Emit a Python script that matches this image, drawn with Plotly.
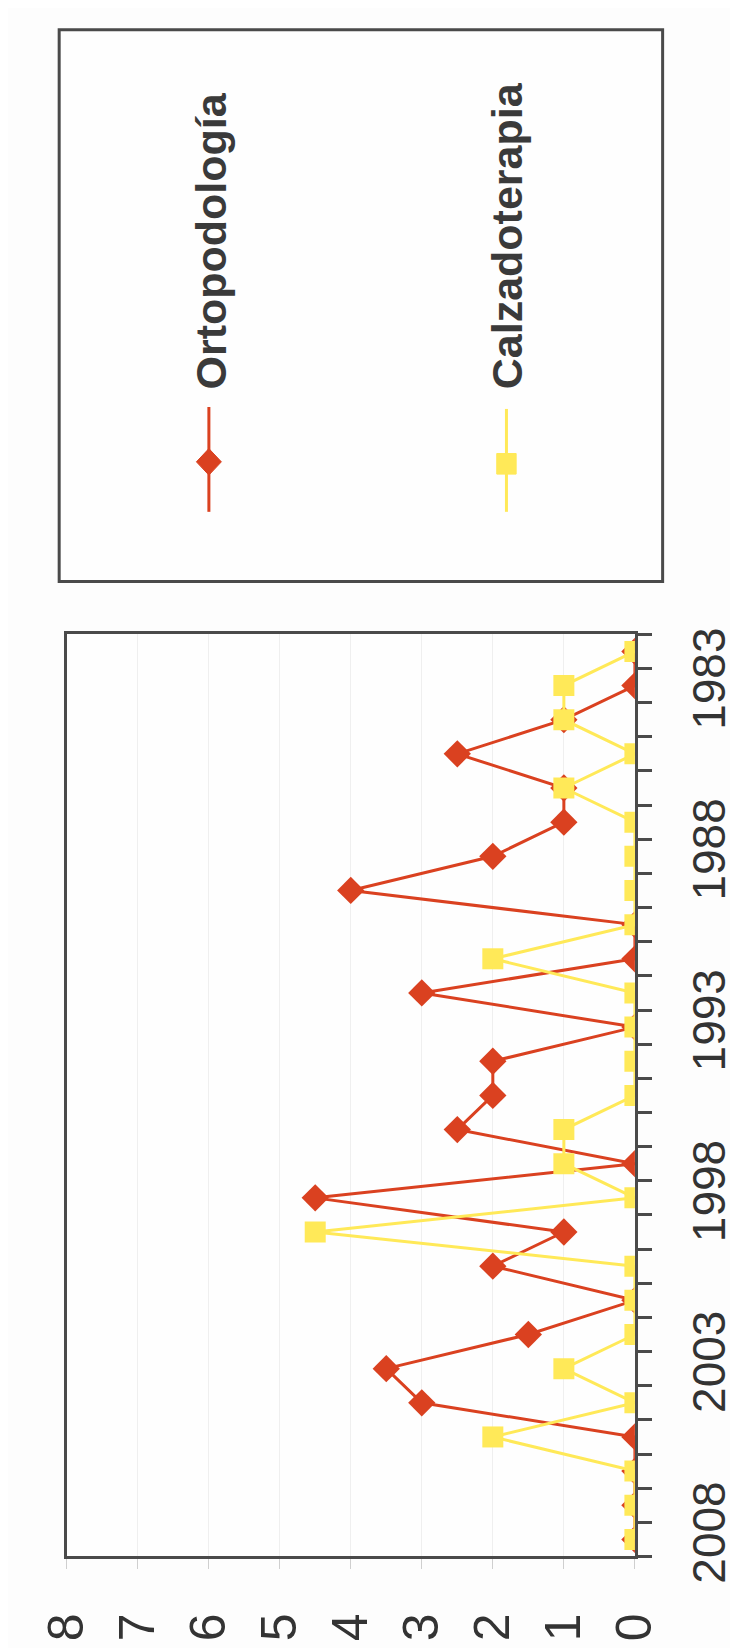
import plotly.graph_objects as go

# Data: categories run 1982..2008 (2008 drawn at the bottom)
years = list(range(1982, 2009))
ortopodologia = [0, 0, 1, 2.5, 1, 1, 2, 4, 0, 0, 3, 0, 2, 2, 2.5,
                 0, 4.5, 1, 2, 0, 1.5, 3.5, 3, 0, 0, 0, 0]
calzadoterapia = [0, 1, 1, 0, 1, 0, 0, 0, 0, 2, 0, 0, 0, 0, 1,
                  1, 0, 4.5, 0, 0, 0, 1, 0, 2, 0, 0, 0]
year_labels = [1983, 1988, 1993, 1998, 2003, 2008]
value_ticks = [0, 1, 2, 3, 4, 5, 6, 7, 8]

W, H = 738, 1648
RED = "#da4120"
YELLOW = "#ffe958"
FRAME = "#4a4a4a"
TEXT = "#333333"


def px(x):
    return x / W


def py(y):
    return 1 - y / H


fig = go.Figure()

fig.add_trace(go.Scatter(
    x=ortopodologia, y=years, mode="lines+markers", name="Ortopodología",
    line=dict(color=RED, width=3),
    marker=dict(symbol="diamond", size=21, color=RED),
))
fig.add_trace(go.Scatter(
    x=calzadoterapia, y=years, mode="lines+markers", name="Calzadoterapia",
    line=dict(color=YELLOW, width=3),
    marker=dict(symbol="square", size=21, color=YELLOW),
))

fig.update_xaxes(
    domain=[px(32), px(647)],
    range=[8, 0],
    tickvals=value_ticks,
    tickangle=-90,
    tickfont=dict(family="Liberation Sans, Arial", size=50, color=TEXT),
    ticks="outside", ticklen=10, tickcolor="#cfcfcf", tickwidth=1,
    showgrid=True, gridcolor="#efefef", gridwidth=1,
    showline=True, linecolor=FRAME, linewidth=3, mirror=True,
    zeroline=False,
    ticklabelstandoff=24,
)

fig.update_yaxes(
    domain=[py(1574), py(633)],
    range=[2008.5, 1981.5],
    side="right",
    tickvals=year_labels,
    tickangle=-90,
    tickfont=dict(family="Liberation Sans, Arial", size=46, color=TEXT),
    ticks="outside", ticklen=14, tickcolor="rgba(0,0,0,0)",
    minor=dict(tick0=1981.5, dtick=1, ticks="outside", ticklen=14,
               tickcolor=FRAME, tickwidth=3, showgrid=False),
    showgrid=False,
    showline=True, linecolor=FRAME, linewidth=3, mirror=True,
    zeroline=False,
    ticklabelstandoff=18,
)

# legend box drawn by hand so the text can be vertical like the original
shapes = [
    dict(type="rect", xref="paper", yref="paper",
         x0=px(24), x1=px(677), y0=py(579), y1=py(16),
         line=dict(color=FRAME, width=3), fillcolor="#fefefe", layer="below"),
    dict(type="line", xref="paper", yref="paper",
         x0=px(186), x1=px(186), y0=py(508), y1=py(401),
         line=dict(color=RED, width=3)),
    dict(type="path", xref="paper", yref="paper",
         path="M {} {} L {} {} L {} {} L {} {} Z".format(
             px(186), py(443.5), px(199.5), py(457),
             px(186), py(470.5), px(172.5), py(457)),
         fillcolor=RED, line=dict(color=RED, width=1)),
    dict(type="line", xref="paper", yref="paper",
         x0=px(508), x1=px(508), y0=py(508), y1=py(403),
         line=dict(color=YELLOW, width=3)),
    dict(type="rect", xref="paper", yref="paper",
         x0=px(497.5), x1=px(518.5), y0=py(469.5), y1=py(448.5),
         fillcolor=YELLOW, line=dict(color=YELLOW, width=1)),
]

annotations = [
    dict(text="Ortopodología", x=px(188), y=py(385), xref="paper", yref="paper",
         xanchor="center", yanchor="bottom", textangle=-90, showarrow=False,
         font=dict(family="Liberation Sans, Arial", size=43, color="#3a3a3a",
                   weight="bold")),
    dict(text="Calzadoterapia", x=px(508), y=py(385), xref="paper", yref="paper",
         xanchor="center", yanchor="bottom", textangle=-90, showarrow=False,
         font=dict(family="Liberation Sans, Arial", size=43, color="#3a3a3a",
                   weight="bold")),
]

fig.update_layout(
    width=W, height=H,
    margin=dict(l=0, r=0, t=0, b=0),
    paper_bgcolor="#fdfdfd",
    plot_bgcolor="#fefefe",
    showlegend=False,
    shapes=shapes,
    annotations=annotations,
)

fig.write_html("out.html")
